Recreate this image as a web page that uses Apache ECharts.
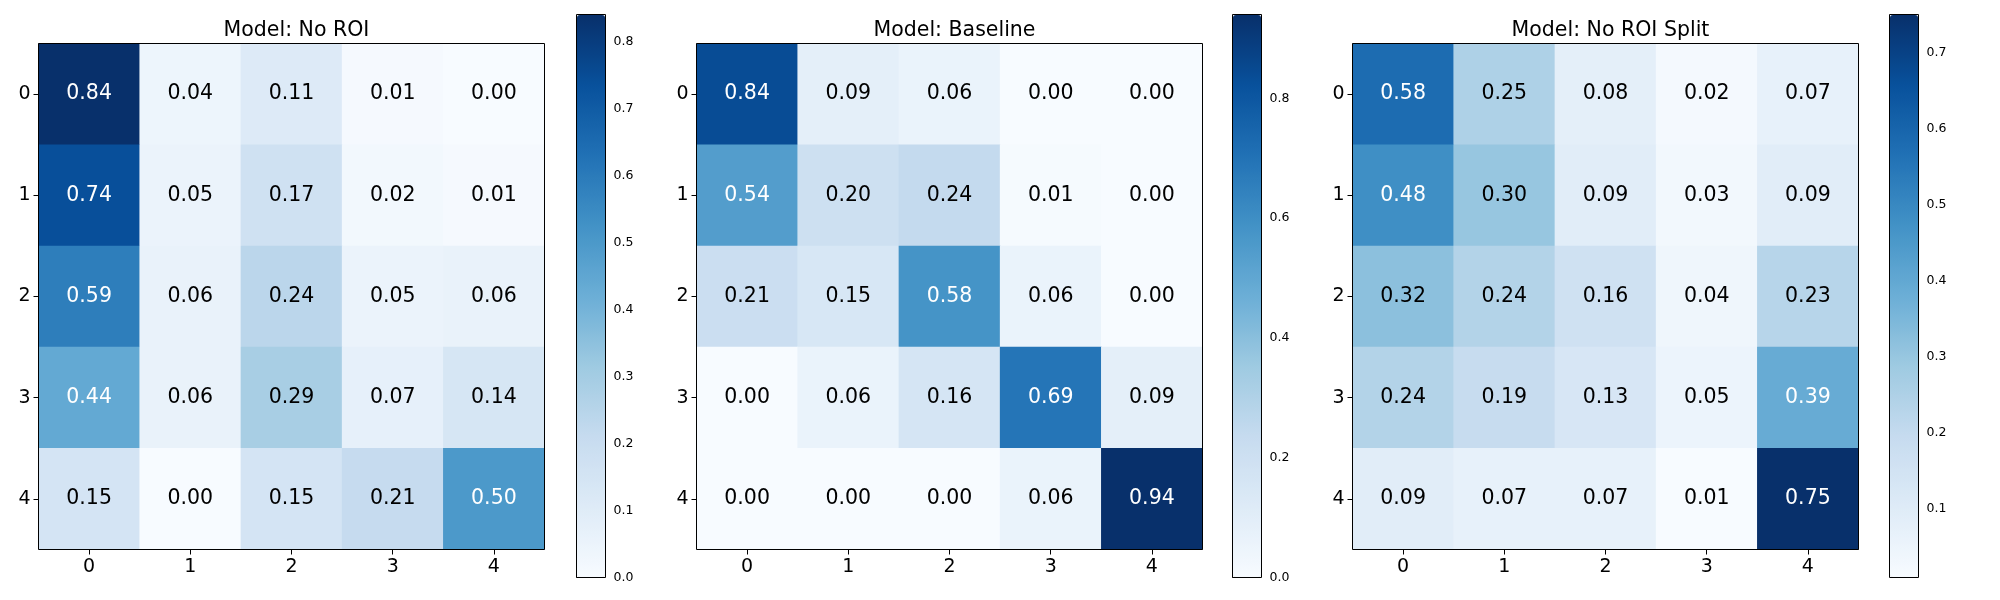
<!DOCTYPE html>
<html lang="en">
<head>
    <meta charset="UTF-8">
    <title>Confusion matrices</title>
    <script src="https://cdn.jsdelivr.net/npm/echarts@6/dist/echarts.min.js"></script>
    <style>
    html, body { margin: 0; padding: 0; background: #fff; }
    #chart { width: 2000px; height: 600px; }
    </style>
</head>
<body>
    <div id="chart"></div>
    <script>
        // data
        var classes = ['0', '1', '2', '3', '4'];
        var titles = ['Model: No ROI', 'Model: Baseline', 'Model: No ROI Split'];
        var noRoi = [
            [0.84, 0.04, 0.11, 0.01, 0.00],
            [0.74, 0.05, 0.17, 0.02, 0.01],
            [0.59, 0.06, 0.24, 0.05, 0.06],
            [0.44, 0.06, 0.29, 0.07, 0.14],
            [0.15, 0.00, 0.15, 0.21, 0.50]
        ];
        var baseline = [
            [0.84, 0.09, 0.06, 0.00, 0.00],
            [0.54, 0.20, 0.24, 0.01, 0.00],
            [0.21, 0.15, 0.58, 0.06, 0.00],
            [0.00, 0.06, 0.16, 0.69, 0.09],
            [0.00, 0.00, 0.00, 0.06, 0.94]
        ];
        var noRoiSplit = [
            [0.58, 0.25, 0.08, 0.02, 0.07],
            [0.48, 0.30, 0.09, 0.03, 0.09],
            [0.32, 0.24, 0.16, 0.04, 0.23],
            [0.24, 0.19, 0.13, 0.05, 0.39],
            [0.09, 0.07, 0.07, 0.01, 0.75]
        ];
        var cbTicks1 = [0.0, 0.1, 0.2, 0.3, 0.4, 0.5, 0.6, 0.7, 0.8];
        var cbTicks2 = [0.0, 0.2, 0.4, 0.6, 0.8];
        var cbTicks3 = [0.1, 0.2, 0.3, 0.4, 0.5, 0.6, 0.7];

        var matrices = [noRoi, baseline, noRoiSplit];
        var cbTicks = [cbTicks1, cbTicks2, cbTicks3];

        // matplotlib "Blues"
        var blues = ['#f7fbff', '#deebf7', '#c6dbef', '#9ecae1', '#6baed6',
                     '#4292c6', '#2171b5', '#08519c', '#08306b'];

        var font = 'DejaVu Sans';
        var gridLeft = [38.5, 696.5, 1352.5];
        var cbLeft = [577, 1233, 1890];
        var side = 506, gridTop = 43.5;
        var cbTop = 15, cbHeight = 562, cbWidth = 28;

        var option = {
            animation: false,
            backgroundColor: '#fff',
            textStyle: { fontFamily: font },
            title: [], grid: [], xAxis: [], yAxis: [], visualMap: [], series: []
        };

        var tickStyle = { show: true, inside: false, alignWithLabel: true, length: 5,
                          lineStyle: { color: '#000', width: 1 } };

        matrices.forEach(function (m, i) {
            var flat = [].concat.apply([], m);
            var vmin = Math.min.apply(null, flat);
            var vmax = Math.max.apply(null, flat);
            var data = [];
            m.forEach(function (row, r) {
                row.forEach(function (v, c) {
                    data.push({
                        value: [c, r, v],
                        label: { color: v > vmax / 2 ? '#fff' : '#000' }
                    });
                });
            });

            option.title.push({
                text: titles[i],
                left: gridLeft[i] + side / 2,
                top: 15,
                textAlign: 'center',
                textStyle: { fontFamily: font, fontSize: 20.5, fontWeight: 'normal', color: '#000' }
            });

            // heatmap grid, border drawn over the cells
            option.grid.push({
                left: gridLeft[i], top: gridTop, width: side, height: side,
                show: true, z: 5, borderColor: '#000', borderWidth: 1,
                backgroundColor: 'transparent'
            });
            // colorbar frame + tick axis
            option.grid.push({
                left: cbLeft[i] - 0.5, top: cbTop - 0.5, width: cbWidth + 1, height: cbHeight + 1,
                show: true, z: 5, borderColor: '#000', borderWidth: 1,
                backgroundColor: 'transparent'
            });

            option.xAxis.push({
                type: 'category', gridIndex: 2 * i, data: classes,
                axisLine: { show: false },
                axisTick: tickStyle,
                axisLabel: { fontFamily: font, fontSize: 19, color: '#000', margin: 8 },
                splitLine: { show: false }
            });
            option.yAxis.push({
                type: 'category', gridIndex: 2 * i, data: classes, inverse: true,
                axisLine: { show: false },
                axisTick: tickStyle,
                axisLabel: { fontFamily: font, fontSize: 19, color: '#000', margin: 8 },
                splitLine: { show: false }
            });

            option.xAxis.push({ type: 'value', gridIndex: 2 * i + 1, show: false, min: 0, max: 1 });
            option.yAxis.push({
                type: 'value', gridIndex: 2 * i + 1, position: 'right',
                min: vmin, max: vmax,
                axisLine: { show: false },
                axisTick: { show: true, inside: false, length: 5, customValues: cbTicks[i],
                            lineStyle: { color: '#000', width: 1 } },
                axisLabel: {
                    fontFamily: font, fontSize: 12.5, color: '#000', margin: 8,
                    customValues: cbTicks[i],
                    formatter: function (v) { return v.toFixed(1); }
                },
                splitLine: { show: false }
            });

            option.visualMap.push({
                type: 'continuous',
                seriesIndex: i,
                min: vmin, max: vmax,
                calculable: false,
                orient: 'vertical',
                left: cbLeft[i], top: cbTop,
                itemWidth: cbWidth, itemHeight: cbHeight,
                padding: 0,
                hoverLink: false,
                inRange: { color: blues }
            });

            option.series.push({
                type: 'heatmap',
                xAxisIndex: 2 * i, yAxisIndex: 2 * i,
                data: data,
                label: {
                    show: true,
                    fontFamily: font, fontSize: 20.5,
                    formatter: function (p) { return p.value[2].toFixed(2); }
                },
                emphasis: { disabled: true }
            });
        });

        var myChart = echarts.init(document.getElementById('chart'));
        myChart.setOption(option);
    </script>
</body>
</html>
